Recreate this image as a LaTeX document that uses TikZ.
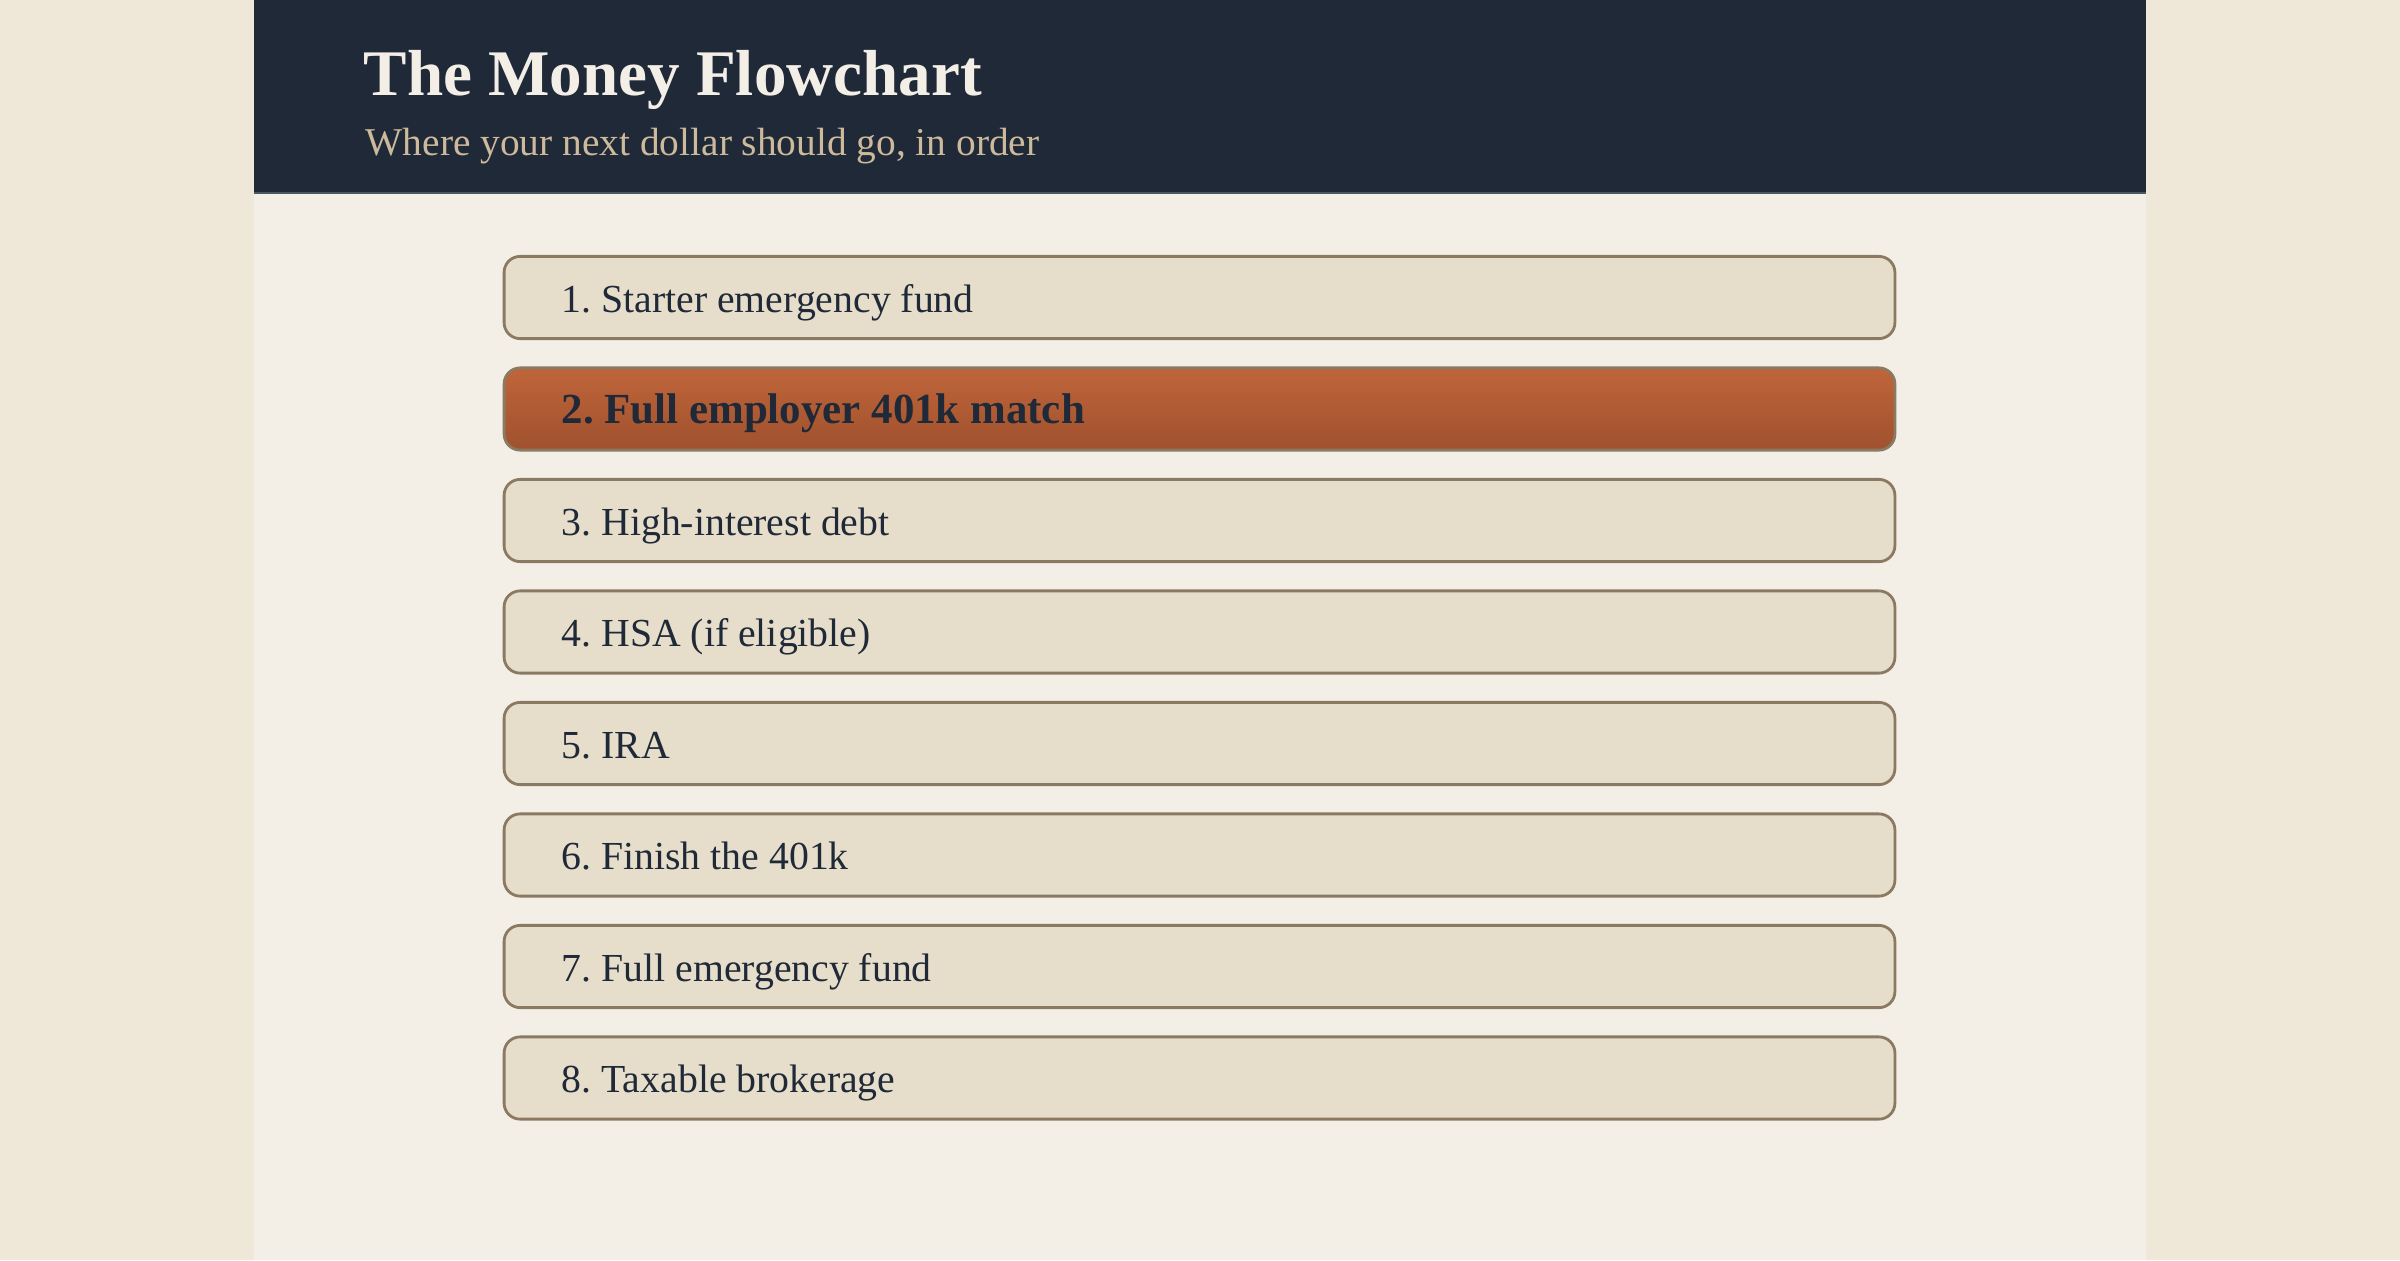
\documentclass[tikz,border=0pt]{standalone}
\usepackage{fontspec}
\setmainfont{Liberation Serif}
\frenchspacing
\definecolor{outerbg}{HTML}{EFE7D7}
\definecolor{panelbg}{HTML}{F3EFE7}
\definecolor{headerbg}{HTML}{1F2937}
\definecolor{headline}{HTML}{4B5563}
\definecolor{titlecol}{HTML}{F3EFE7}
\definecolor{subcol}{HTML}{CDB99B}
\definecolor{boxfill}{HTML}{E6DECA}
\definecolor{boxline}{HTML}{8B7A62}
\definecolor{boxtext}{HTML}{1F2937}
\definecolor{hitop}{HTML}{C0653A}
\definecolor{hibot}{HTML}{9F512E}
\tikzset{
  stepbox/.style={draw=boxline, line width=0.028cm, rounded corners=0.16cm,
    minimum width=13.90cm, minimum height=0.822cm, inner sep=0pt},
  plainbox/.style={stepbox, fill=boxfill},
  hibox/.style={stepbox, top color=hitop, bottom color=hibot},
  steptext/.style={anchor=base west, inner sep=0pt, text=boxtext,
    font=\frenchspacing\fontsize{11.3}{13}\selectfont},
  hitext/.style={steptext, font=\frenchspacing\bfseries\fontsize{12.2}{14}\selectfont},
}
\begin{document}
\frenchspacing
\begin{tikzpicture}[x=0.01cm,y=-0.01cm]
\fill[outerbg] (0,0) rectangle (2400,1260);
\useasboundingbox (0,0) rectangle (2400,1260);
\fill[panelbg] (254,0) rectangle (2146,1260);
\fill[headerbg] (254,0) rectangle (2146,193);
\draw[headline, line width=0.02cm] (254,193) -- (2146,193);
\node[anchor=base west, inner sep=0pt, text=titlecol,
  font=\bfseries\fontsize{18.5}{21}\selectfont] (title) at (363,95) {The Money Flowchart};
\node[anchor=base west, inner sep=0pt, text=subcol,
  font=\fontsize{11.2}{13}\selectfont] (subtitle) at (365,155) {Where your next dollar should go, in order};
\foreach \i/\t in {1/Starter emergency fund, 3/High-interest debt, 4/HSA (if eligible), 5/IRA, 6/Finish the 401k, 7/Full emergency fund, 8/Taxable brokerage}{
  \node[plainbox] (b\i) at (1199.5, {297.5+(\i-1)*111.5}) {};
  \node[steptext] (t\i) at (561, {312+(\i-1)*111.5}) {\i. \t};
}
\node[hibox] (b2) at (1199.5, 409) {};
\node[hitext] (t2) at (561, 423.5) {2. Full employer 401k match};
\end{tikzpicture}
\end{document}
